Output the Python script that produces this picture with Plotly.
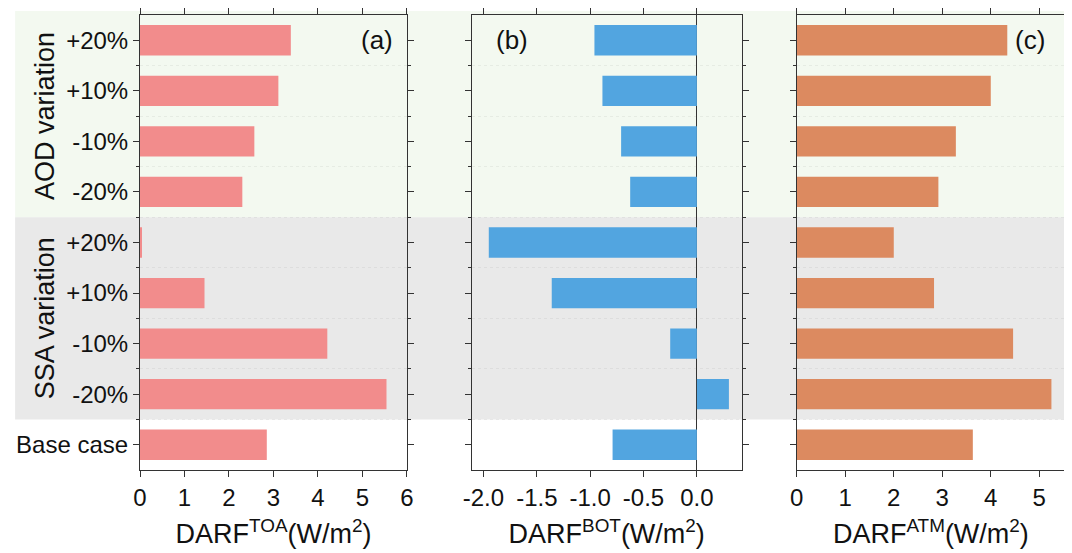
import plotly.graph_objects as go

# ---- data ----
row_labels = ["+20%", "+10%", "-10%", "-20%", "+20%", "+10%", "-10%", "-20%", "Base case"]
darf_toa = [3.39, 3.11, 2.57, 2.30, 0.04, 1.45, 4.21, 5.54, 2.85]
darf_bot = [-0.96, -0.885, -0.71, -0.625, -1.95, -1.36, -0.25, 0.30, -0.79]
darf_atm = [4.34, 4.00, 3.28, 2.92, 2.00, 2.83, 4.46, 5.25, 3.63]
group_labels = ["AOD variation", "SSA variation"]
toa_ticks = [0, 1, 2, 3, 4, 5, 6]
bot_ticks = [-2.0, -1.5, -1.0, -0.5, 0.0]
bot_ticktext = ["-2.0", "-1.5", "-1.0", "-0.5", "0.0"]
atm_ticks = [0, 1, 2, 3, 4, 5]
panel_labels = ["(a)", "(b)", "(c)"]
axis_titles = ["DARF<sup>TOA</sup>(W/m<sup>2</sup>)",
               "DARF<sup>BOT</sup>(W/m<sup>2</sup>)",
               "DARF<sup>ATM</sup>(W/m<sup>2</sup>)"]

positions = list(range(len(row_labels)))
boundaries = [p + 0.5 for p in positions[:-1]]

colors = ["rgb(242,140,140)", "rgb(82,165,224)", "rgb(220,138,96)"]
FONT = "Liberation Sans, Arial, sans-serif"
LINE = "#333333"

fig = go.Figure()
for i, vals in enumerate([darf_toa, darf_bot, darf_atm]):
    sfx = "" if i == 0 else str(i + 1)
    fig.add_trace(go.Bar(x=vals, y=positions, orientation="h", width=0.6,
                         marker=dict(color=colors[i], line=dict(width=0)),
                         xaxis="x" + sfx, yaxis="y" + sfx, showlegend=False))

domains = [[0.0, 0.2886], [0.3586, 0.6505], [0.7100, 1.0]]
xranges = [[0, 6], [-2.11, 0.42], [0, 5.53]]
xticks = [(toa_ticks, [str(t) for t in toa_ticks]), (bot_ticks, bot_ticktext),
          (atm_ticks, [str(t) for t in atm_ticks])]

layout = dict(
    width=1064, height=545,
    margin=dict(l=132, r=7, t=7, b=83, autoexpand=False),
    paper_bgcolor="white", plot_bgcolor="rgba(0,0,0,0)",
    font=dict(family=FONT, size=24, color="#111111"),
    bargap=0.4,
)

for i in range(3):
    sfx = "" if i == 0 else str(i + 1)
    layout["xaxis" + sfx] = dict(
        domain=domains[i], range=xranges[i], anchor="y" + sfx, automargin=False,
        tickmode="array", tickvals=xticks[i][0], ticktext=xticks[i][1],
        ticks="outside", ticklen=6, tickcolor=LINE, mirror="allticks",
        showline=True, linecolor=LINE, linewidth=1, showgrid=False,
        zeroline=(i == 1), zerolinecolor=LINE, zerolinewidth=1,
        tickfont=dict(size=24, family=FONT),
        title=dict(text=axis_titles[i], font=dict(size=27, family=FONT), standoff=14),
    )
    layout["yaxis" + sfx] = dict(
        domain=[0, 1], range=[8.5, -0.5], anchor="x" + sfx, automargin=False,
        tickmode="array", tickvals=positions,
        ticktext=row_labels if i == 0 else [""] * len(row_labels),
        showticklabels=(i == 0),
        ticks="outside", ticklen=6, tickcolor=LINE, mirror="allticks",
        showline=True, linecolor=LINE, linewidth=1, showgrid=False, zeroline=False,
        tickfont=dict(size=24, family=FONT),
        minor=dict(tickmode="array", tickvals=boundaries, ticks="outside", ticklen=3,
                   tickcolor=LINE, showgrid=True, gridcolor="rgba(0,0,0,0.05)",
                   griddash="dot", gridwidth=1),
    )

fig.update_layout(**layout)

# background bands
fig.add_shape(type="rect", xref="paper", yref="paper", x0=-0.135, x1=1.008,
              y0=5 / 9, y1=1.009, fillcolor="rgb(243,249,240)", line_width=0, layer="below")
fig.add_shape(type="rect", xref="paper", yref="paper", x0=-0.135, x1=1.008,
              y0=1 / 9, y1=5 / 9, fillcolor="rgb(233,233,233)", line_width=0, layer="below")

# panel labels
label_x = [0.888, 0.149, 0.87]
for i in range(3):
    sfx = "" if i == 0 else str(i + 1)
    fig.add_annotation(text=panel_labels[i], xref="x" + sfx + " domain", yref="y" + sfx,
                       x=label_x[i], y=0, xanchor="center", yanchor="middle",
                       showarrow=False,
                       font=dict(size=26, family=FONT, color="#111111"))

# group labels
for lbl, yc in zip(group_labels, [1.5, 5.5]):
    fig.add_annotation(text=lbl, xref="paper", yref="y", x=-0.1027, y=yc,
                       xanchor="center", yanchor="middle",
                       textangle=-90, showarrow=False,
                       font=dict(size=27, family=FONT, color="#111111"))

fig.write_html("out.html")
